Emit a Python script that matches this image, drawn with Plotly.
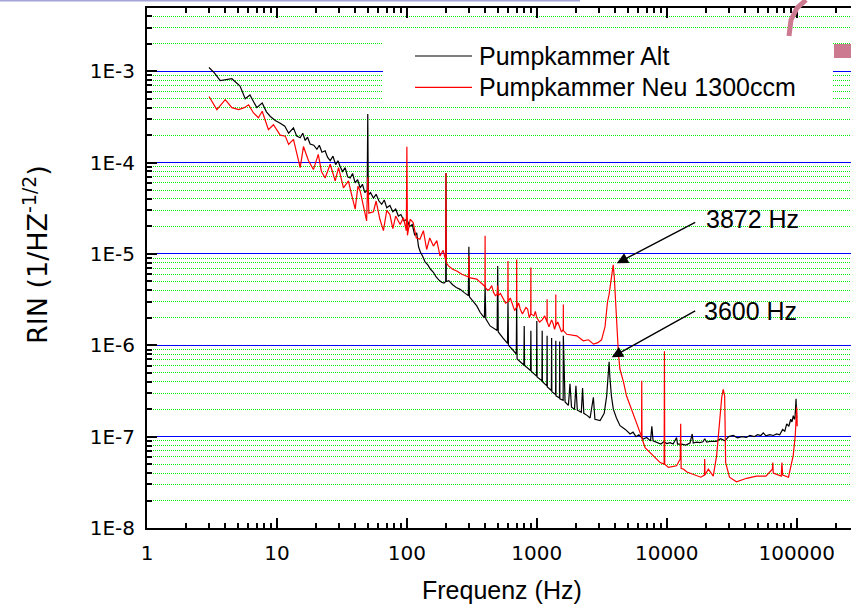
import numpy as np
import plotly.graph_objects as go

# ---------------- data ----------------
alt_freq = [3.0, 3.3, 3.66, 4.0, 4.5, 5.2, 5.7, 6.2, 7.0, 7.7, 8.3, 8.9, 9.7, 10.6, 11.5, 12.3, 13.4, 14.2,
            15.1, 15.8, 16.5, 17.2, 18.0, 19.2, 20.3, 21.2, 22.2, 23.5, 24.5, 25.7, 27.0, 28.3, 29.5, 30.7,
            32.0, 33.5, 35.0, 36.6, 38.2, 40.0, 41.8, 43.7, 45.5, 47.5, 49.5, 50.0, 50.5, 52.5, 55.3, 58.0,
            61.0, 64.0, 67.0, 70.0, 74.0, 78.0, 82.0, 86.0, 90.0, 95.0, 100.0, 105.0, 110.0, 115.0, 119.0,
            123.0, 127.0, 132.0, 138.0, 145.0, 152.0, 160.0, 168.0, 176.0, 185.0, 193.0, 199.0, 200.0, 201.0,
            210.0, 225.0, 240.0, 257.0, 275.0, 290.0, 297.0, 300.0, 303.0, 325.0, 345.0, 366.0, 395.0, 400.0,
            405.0, 437.0, 495.0, 500.0, 505.0, 550.0, 595.0, 600.0, 605.0, 650.0, 695.0, 700.0, 705.0,
            795.0, 800.0, 805.0, 895.0, 900.0, 905.0, 995.0, 1000.0, 1005.0, 1095.0, 1100.0, 1105.0,
            1195.0, 1200.0, 1205.0, 1295.0, 1300.0, 1305.0, 1395.0, 1400.0, 1405.0, 1495.0, 1500.0, 1505.0,
            1595.0, 1600.0, 1650.0, 1750.0, 1800.0, 1850.0, 1950.0, 2000.0, 2050.0, 2200.0, 2250.0, 2300.0,
            2450.0, 2570.0, 2725.0, 2800.0, 3070.0, 3300.0, 3450.0, 3550.0, 3600.0, 3650.0, 3750.0, 3880.0,
            4100.0, 4370.0, 4800.0, 5220.0, 5800.0, 6610.0, 7500.0, 7680.0, 7850.0, 8370.0, 10000.0,
            11200.0, 11900.0, 12100.0, 13000.0, 15100.0, 15700.0, 16000.0, 18000.0, 19600.0, 20300.0,
            24000.0, 27200.0, 32500.0, 38000.0, 43700.0, 50000.0, 55300.0, 62000.0, 70200.0, 78000.0,
            83800.0, 90000.0, 94200.0, 97000.0, 98900.0, 100000.0]
alt_rin = [1.1e-3, 9.6e-4, 7.9e-4, 8.1e-4, 8.3e-4, 6.9e-4, 5.0e-4, 5.5e-4, 4.0e-4, 4.5e-4, 3.6e-4, 3.2e-4,
           2.9e-4, 2.7e-4, 2.5e-4, 2.1e-4, 2.4e-4, 1.95e-4, 1.87e-4, 2.1e-4, 1.75e-4, 1.9e-4, 1.6e-4,
           1.55e-4, 1.4e-4, 1.55e-4, 1.3e-4, 1.35e-4, 1.15e-4, 1.05e-4, 1.18e-4, 9.5e-5, 1.05e-4, 9.0e-5,
           8.0e-5, 8.8e-5, 7.0e-5, 6.8e-5, 7.6e-5, 6.0e-5, 6.5e-5, 5.3e-5, 5.8e-5, 4.7e-5, 5.0e-5, 3.4e-4,
           4.4e-5, 4.7e-5, 4.1e-5, 4.5e-5, 3.8e-5, 3.5e-5, 3.9e-5, 3.2e-5, 3.4e-5, 2.9e-5, 3.1e-5, 2.6e-5,
           2.7e-5, 2.3e-5, 2.4e-5, 2.0e-5, 2.1e-5, 1.6e-5, 1.7e-5, 1.2e-5, 1.05e-5, 9.5e-6, 8.2e-6, 7.6e-6,
           6.8e-6, 6.3e-6, 5.6e-6, 5.2e-6, 4.9e-6, 4.8e-6, 5.0e-6, 7.7e-5, 5.0e-6, 5.1e-6, 4.6e-6, 4.3e-6,
           4.1e-6, 3.8e-6, 3.6e-6, 3.5e-6, 1.2e-5, 3.4e-6, 3.0e-6, 2.7e-6, 2.3e-6, 2.0e-6, 4.5e-6, 1.95e-6,
           1.63e-6, 1.45e-6, 7.4e-6, 1.4e-6, 1.2e-6, 1.05e-6, 3.0e-6, 1.0e-6, 9.0e-7, 8.0e-7, 3.0e-6, 7.1e-7,
           6.1e-7, 1.63e-6, 6.0e-7, 5.3e-7, 1.44e-6, 5.2e-7, 4.6e-7, 1.85e-6, 4.5e-7, 4.1e-7, 1.44e-6, 4.0e-7,
           3.6e-7, 1.27e-6, 3.5e-7, 3.2e-7, 1.2e-6, 3.1e-7, 2.9e-7, 1.12e-6, 2.8e-7, 2.65e-7, 1.1e-6, 2.6e-7,
           2.5e-7, 1.27e-6, 2.4e-7, 2.2e-7, 3.8e-7, 2.1e-7, 2.0e-7, 3.6e-7, 1.95e-7, 1.85e-7, 3.4e-7, 1.8e-7,
           1.7e-7, 1.6e-7, 2.7e-7, 1.55e-7, 1.5e-7, 1.8e-7, 2.8e-7, 5.0e-7, 6.6e-7, 4.5e-7, 2.8e-7, 2.0e-7,
           1.6e-7, 1.32e-7, 1.2e-7, 1.07e-7, 1.0e-7, 9.4e-8, 9.0e-8, 1.3e-7, 9.0e-8, 8.7e-8, 8.4e-8,
           8.3e-8, 9.8e-8, 8.3e-8, 8.3e-8, 8.5e-8, 1.07e-7, 8.5e-8, 8.6e-8, 9.5e-8, 8.7e-8,
           8.9e-8, 9.3e-8, 1.03e-7, 1.0e-7, 1.03e-7, 1.05e-7, 1.1e-7, 1.05e-7, 1.07e-7, 1.2e-7,
           1.38e-7, 1.55e-7, 1.7e-7, 1.6e-7, 2.6e-7, 1.6e-7]
# extra readings of the noisy floor (5 kHz - 100 kHz)
alt_extra_freq = [5500, 6100, 7000, 9000, 9500, 10600, 14000, 17000, 19000, 22000, 26000, 28000,
                  30000, 35000, 41000, 47000, 53000, 58000, 66000, 74000, 81000, 87000, 92000, 96000]
alt_extra_rin = [1.12e-7, 1.05e-7, 9.8e-8, 8.3e-8, 8.8e-8, 8.6e-8, 8.1e-8, 8.7e-8, 8.8e-8, 8.9e-8,
                 9.5e-8, 9.0e-8, 1.0e-7, 9.7e-8, 9.8e-8, 1.0e-7, 1.03e-7, 1.02e-7, 1.03e-7, 1.05e-7,
                 1.15e-7, 1.3e-7, 1.45e-7, 1.55e-7]

neu_freq = [3.0, 3.45, 4.0, 4.5, 5.07, 5.6, 6.05, 6.6, 7.2, 7.7, 8.6, 9.4, 10.6, 11.6, 12.3, 13.4, 15.1, 16.0,
            17.5, 19.1, 20.8, 22.0, 23.5, 25.7, 28.1, 29.8, 32.5, 35.5, 37.5, 40.0, 42.0, 43.7, 46.0, 49.0,
            50.0, 51.0, 55.3, 58.0, 62.0, 66.0, 70.0, 74.0, 78.0, 82.0, 88.8, 94.0, 99.0, 100.0, 101.0, 106.0,
            112.0, 118.0, 126.0, 134.0, 142.0, 150.0, 160.0, 170.0, 180.0, 190.0, 199.0, 200.0, 201.0, 209.0,
            225.0, 242.0, 265.0, 289.0, 298.0, 300.0, 302.0, 345.0, 389.0, 399.0, 400.0, 401.0, 437.0, 464.0,
            495.0, 500.0, 505.0, 550.0, 598.0, 600.0, 602.0, 650.0, 698.0, 700.0, 702.0, 745.0, 800.0, 850.0,
            898.0, 900.0, 902.0, 950.0, 1000.0, 1100.0, 1198.0, 1200.0, 1202.0, 1270.0, 1340.0, 1398.0,
            1400.0, 1402.0, 1500.0, 1598.0, 1600.0, 1602.0, 1700.0, 1850.0, 2030.0, 2280.0, 2500.0, 2730.0,
            2950.0, 3150.0, 3350.0, 3500.0, 3600.0, 3700.0, 3800.0, 3872.0, 3950.0, 4050.0, 4150.0, 4250.0,
            4360.0, 4640.0, 4900.0, 5560.0, 6290.0, 6400.0, 6420.0, 6450.0, 6810.0, 7860.0, 8900.0, 9550.0,
            9600.0, 9650.0, 10300.0, 11900.0, 12700.0, 12800.0, 12900.0, 13500.0, 14300.0, 17000.0, 18300.0,
            19500.0, 19600.0, 19700.0, 20900.0, 22800.0, 24200.0, 26500.0, 27200.0, 27900.0, 28400.0,
            30400.0, 34400.0, 41200.0, 49000.0, 58000.0, 65000.0, 65500.0, 66000.0, 76000.0, 77000.0,
            78000.0, 86500.0, 94000.0, 97500.0, 100000.0, 101000.0]
neu_rin = [5.3e-4, 3.8e-4, 4.9e-4, 4.0e-4, 3.8e-4, 4.0e-4, 4.3e-4, 3.5e-4, 3.1e-4, 3.65e-4, 2.3e-4, 2.6e-4,
           2.0e-4, 1.95e-4, 1.58e-4, 1.8e-4, 8.8e-5, 1.5e-4, 1.05e-4, 8.4e-5, 1.23e-4, 8.0e-5, 6.8e-5,
           9.6e-5, 6.3e-5, 8.8e-5, 5.3e-5, 6.3e-5, 4.5e-5, 3.1e-5, 5.5e-5, 4.9e-5, 3.5e-5, 2.3e-5, 6.9e-5,
           2.8e-5, 2.9e-5, 3.8e-5, 2.4e-5, 1.8e-5, 3.0e-5, 2.7e-5, 1.9e-5, 2.6e-5, 2.1e-5, 2.5e-5, 1.8e-5,
           1.49e-4, 1.6e-5, 2.4e-5, 2.2e-5, 1.5e-5, 1.45e-5, 1.8e-5, 1.12e-5, 1.5e-5, 1.22e-5, 1.4e-5,
           9.5e-6, 1.1e-5, 8.5e-6, 7.7e-5, 8.0e-6, 7.4e-6, 6.8e-6, 6.5e-6, 6.0e-6, 5.7e-6, 5.6e-6, 9.5e-6,
           5.5e-6, 5.3e-6, 4.5e-6, 4.4e-6, 1.58e-5, 4.3e-6, 4.2e-6, 3.8e-6, 3.6e-6, 4.5e-6, 3.5e-6, 3.2e-6,
           3.0e-6, 8.4e-6, 3.0e-6, 2.8e-6, 2.6e-6, 8.7e-6, 2.6e-6, 2.5e-6, 2.4e-6, 2.5e-6, 2.2e-6, 7.1e-6,
           2.2e-6, 2.1e-6, 2.0e-6, 1.9e-6, 1.8e-6, 3.2e-6, 1.8e-6, 1.75e-6, 1.7e-6, 1.65e-6, 3.6e-6, 1.65e-6,
           1.6e-6, 1.5e-6, 2.8e-6, 1.45e-6, 1.32e-6, 1.3e-6, 1.27e-6, 1.12e-6, 1.15e-6, 1.03e-6, 1.07e-6,
           1.15e-6, 1.6e-6, 3.0e-6, 3.6e-6, 4.8e-6, 7.0e-6, 7.6e-6, 5.5e-6, 2.8e-6, 1.4e-6, 8.0e-7, 5.5e-7,
           4.0e-7, 2.8e-7, 1.7e-7, 1.03e-7, 1.0e-7, 4.1e-7, 9.5e-8, 7.6e-8, 6.2e-8, 5.2e-8, 5.0e-8, 8.6e-7,
           5.0e-8, 4.6e-8, 4.8e-8, 5.7e-8, 1.38e-7, 4.5e-8, 4.4e-8, 4.1e-8, 3.7e-8, 3.6e-8, 3.8e-8, 5.7e-8,
           3.8e-8, 4.4e-8, 3.7e-8, 6.2e-8, 2.7e-7, 3.3e-7, 2.8e-7, 5.2e-8, 3.6e-8, 3.2e-8, 3.5e-8, 3.7e-8,
           3.7e-8, 4.4e-8, 5.2e-8, 4.0e-8, 3.7e-8, 5.2e-8, 3.8e-8, 3.6e-8, 6.2e-8, 1.03e-7, 2.1e-7, 1.3e-7]
# extra readings of the noisy band (400 Hz - 1.6 kHz)
neu_extra_freq = [420, 450, 480, 525, 575, 625, 675, 725, 775, 825, 875, 975, 1050, 1150, 1240, 1300,
                  1370, 1450, 1550]
neu_extra_rin = [4.0e-6, 4.5e-6, 3.5e-6, 3.7e-6, 2.9e-6, 3.3e-6, 2.4e-6, 2.9e-6, 2.2e-6, 2.6e-6, 2.0e-6,
                 2.35e-6, 1.8e-6, 2.1e-6, 1.6e-6, 1.9e-6, 1.5e-6, 1.8e-6, 1.4e-6]

series_names = ["Pumpkammer Alt", "Pumpkammer Neu 1300ccm"]
series_colors = ["#000000", "#ff0000"]

x_tick_vals = [1, 10, 100, 1000, 10000, 100000]
x_tick_text = ["1", "10", "100", "1000", "10000", "100000"]
y_tick_vals = [1e-8, 1e-7, 1e-6, 1e-5, 1e-4, 1e-3]
y_tick_text = ["1E-8", "1E-7", "1E-6", "1E-5", "1E-4", "1E-3"]

ann_labels = ["3872 Hz", "3600 Hz"]
ann_head_freq = [4125, 3775]
ann_head_rin = [7.9e-6, 7.4e-7]

assert len(alt_freq) == len(alt_rin) and len(neu_freq) == len(neu_rin)
assert len(alt_extra_freq) == len(alt_extra_rin) and len(neu_extra_freq) == len(neu_extra_rin)


def merged(f1, v1, f2, v2):
    pairs = sorted(zip(list(f1) + list(f2), list(v1) + list(v2)))
    return [p[0] for p in pairs], [p[1] for p in pairs]


alt_x, alt_y = merged(alt_freq, alt_rin, alt_extra_freq, alt_extra_rin)
neu_x, neu_y = merged(neu_freq, neu_rin, neu_extra_freq, neu_extra_rin)

# ---------------- figure ----------------
W, H = 851, 610
ML, MR, MT, MB = 147, 0, 8, 82
PW, PH = W - ML - MR, H - MT - MB
X_RANGE = [0, 5.418]
Y_RANGE = [-8, -2.307]


def px(xp):
    return (xp - ML) / PW


def py(yp):
    return (H - MB - yp) / PH


def lx(xp):
    return X_RANGE[0] + (xp - ML) / PW * (X_RANGE[1] - X_RANGE[0])


def ly(yp):
    return Y_RANGE[1] - (yp - MT) / PH * (Y_RANGE[1] - Y_RANGE[0])


fig = go.Figure()
for f, v, name, col in [(alt_x, alt_y, series_names[0], series_colors[0]),
                        (neu_x, neu_y, series_names[1], series_colors[1])]:
    fig.add_trace(go.Scatter(x=f, y=v, mode="lines", name=name, showlegend=False,
                             line=dict(color=col, width=1.2)))

x_minor = [m * 10 ** d for d in range(0, 6) for m in range(2, 10) if m * 10 ** d < 10 ** X_RANGE[1]]
y_minor = [m * 10.0 ** d for d in range(-9, -2) for m in range(2, 10)
           if 10 ** Y_RANGE[0] < m * 10.0 ** d < 10 ** Y_RANGE[1]]

tickfont = dict(family="DejaVu Sans", size=20, color="black")

fig.update_xaxes(type="log", range=X_RANGE, showline=True, linecolor="black", linewidth=2,
                 mirror="ticks", ticks="inside", ticklen=10, tickwidth=1.5, tickcolor="black",
                 tickmode="array", tickvals=x_tick_vals, ticktext=x_tick_text,
                 tickfont=tickfont, showgrid=False, zeroline=False, ticklabelstandoff=6,
                 minor=dict(tickmode="array", tickvals=x_minor, ticks="inside", ticklen=5,
                            tickwidth=1.5, tickcolor="black", showgrid=False))
fig.update_yaxes(type="log", range=Y_RANGE, showline=True, linecolor="black", linewidth=2,
                 mirror=False, ticks="inside", ticklen=10, tickwidth=1.5, tickcolor="black",
                 tickmode="array", tickvals=y_tick_vals, ticktext=y_tick_text,
                 tickfont=tickfont, showgrid=True, gridcolor="#0000ff", gridwidth=1,
                 zeroline=False, ticklabelstandoff=6,
                 minor=dict(tickmode="array", tickvals=y_minor, ticks="inside", ticklen=5,
                            tickwidth=1.5, tickcolor="black", showgrid=True,
                            gridcolor="#00ee00", gridwidth=1, griddash="1px,1px"))

shapes = [
    # white legend background box
    dict(type="rect", xref="paper", yref="paper", x0=px(383), x1=px(833), y0=py(104), y1=py(32),
         fillcolor="white", line=dict(width=0), layer="above"),
    # screenshot artefacts
    dict(type="line", xref="paper", yref="paper", x0=px(0), x1=px(580), y0=py(0.7), y1=py(0.7),
         line=dict(color="#a4a4d8", width=1.5)),
    dict(type="path", xref="paper", yref="paper",
         path=f"M {px(806)} {py(0)} L {px(797)} {py(8)} L {px(791)} {py(20)} L {px(789)} {py(36)}",
         line=dict(color="#cc7a90", width=5)),
    dict(type="rect", xref="paper", yref="paper", x0=px(834), x1=px(851), y0=py(58), y1=py(44),
         fillcolor="#cc7a90", line=dict(width=0)),
]

legend_font = dict(family="Liberation Sans, Arial", size=25, color="black")
annotations = []
# manual legend (line sample + label)
for i, (name, col) in enumerate(zip(series_names, series_colors)):
    yrow = 56 + i * 31.3
    shapes.append(dict(type="line", xref="paper", yref="paper", x0=px(415), x1=px(472),
                       y0=py(yrow), y1=py(yrow), line=dict(color=col, width=1.2)))
    annotations.append(dict(x=px(477), y=py(yrow), xref="paper", yref="paper", text=name,
                            showarrow=False, xanchor="left", yanchor="middle", font=legend_font))

tails = [(696.7, 221.7), (696.7, 310.0)]
text_pos = [(704, 218.5), (702, 310.5)]
for lab, hf, hv, (tx, ty), (lx0, ly0) in zip(ann_labels, ann_head_freq, ann_head_rin, tails, text_pos):
    annotations.append(dict(x=np.log10(hf), y=np.log10(hv), xref="x", yref="y", text="",
                            showarrow=True, arrowhead=2, arrowsize=1.6, arrowwidth=1.4,
                            arrowcolor="black", axref="x", ayref="y", ax=lx(tx), ay=ly(ty)))
    annotations.append(dict(x=lx(lx0), y=ly(ly0), xref="x", yref="y", text=lab, showarrow=False,
                            xanchor="left", yanchor="middle",
                            font=dict(family="Liberation Sans, Arial", size=25, color="black")))

annotations.append(dict(x=px(501.7), y=py(590), xref="paper", yref="paper", text="Frequenz (Hz)",
                        showarrow=False, xanchor="center", yanchor="middle",
                        font=dict(family="Liberation Sans, Arial", size=25, color="black")))
annotations.append(dict(x=px(35), y=py(255), xref="paper", yref="paper",
                        text="RIN (1/HZ<sup>-1/2</sup>)", textangle=-90, showarrow=False,
                        xanchor="center", yanchor="middle",
                        font=dict(family="DejaVu Sans", size=27, color="black")))

fig.update_layout(width=W, height=H, autosize=False,
                  margin=dict(l=ML, r=MR, t=MT, b=MB, pad=0),
                  paper_bgcolor="white", plot_bgcolor="white",
                  showlegend=False,
                  shapes=shapes, annotations=annotations)

fig.write_html("out.html")
